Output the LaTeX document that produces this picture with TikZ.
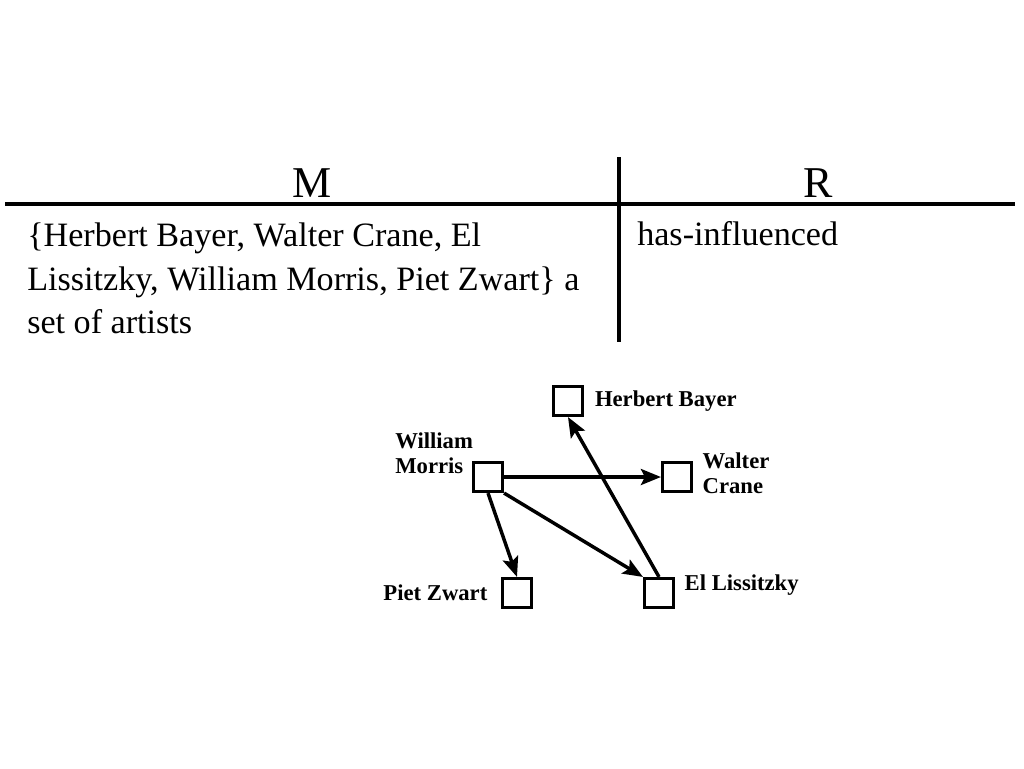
\documentclass[tikz,border=0pt]{standalone}
\usepackage{fontspec}
\setmainfont{Liberation Serif}
\usetikzlibrary{arrows.meta,positioning}

\begin{document}
\begin{tikzpicture}[
    x=0.75pt, y=-0.75pt,
    artist/.style={rectangle, draw, line width=2.5pt, minimum size=21.6pt, inner sep=0pt},
    artistname/.style={font=\fontsize{17}{19}\selectfont\bfseries, inner sep=0pt, align=left},
    infl/.style={line width=2.6pt, -{Stealth[length=15pt,width=12pt,inset=3pt]}},
    rulebar/.style={line width=3pt},
    colhead/.style={font=\fontsize{33}{36}\selectfont, inner sep=0pt},
    cell/.style={font=\fontsize{25.6}{32.5}\selectfont, align=left, inner sep=0pt}
]
    \useasboundingbox (0,0) rectangle (1024,768);
    % the M / R table
    \node[colhead, anchor=base] (mhead) at (312,197) {M};
    \node[colhead, anchor=base] (rhead) at (818,197) {R};
    \coordinate (hleft) at (5,204);
    \coordinate (hright) at (1015,204);
    \coordinate (vtop) at (619,157);
    \coordinate (vbottom) at (619,342);
    \draw[rulebar] (hleft) -- (hright);
    \draw[rulebar] (vtop) -- (vbottom);
    \node[cell, anchor=north west] (mcell) at (27,223)
        {\{Herbert Bayer, Walter Crane, El\\
         Lissitzky, William Morris, Piet Zwart\} a\\
         set of artists};
    \node[cell, anchor=north west] (rcell) at (637,221) {has-influenced};

    % the graph
    \node[artist] (hbayer) at (568,401) {};
    \node[artist] (wmorris) at (488,477) {};
    \node[artist] (wcrane) at (677,477) {};
    \node[artist] (pzwart) at (517,593) {};
    \node[artist] (ellissitzky) at (659,593) {};

    \node[artistname, right=8pt of hbayer] (hbayerlbl) {Herbert Bayer};
    \node[artistname, anchor=north west] (wmorrislbl) at (395,432) {William\\Morris};
    \node[artistname, right=7pt of wcrane, yshift=3pt] (wcranelbl) {Walter\\Crane};
    \node[artistname, left=10pt of pzwart] (pzwartlbl) {Piet Zwart};
    \node[artistname, right=7pt of ellissitzky, yshift=6pt] (ellissitzkylbl) {El Lissitzky};

    \draw[infl] (wmorris) -- (wcrane);
    \draw[infl] (wmorris.south) -- (pzwart.north);
    \draw[infl] (wmorris.south east) -- (ellissitzky.north west);
    \draw[infl] (ellissitzky.north) -- (hbayer.south);
\end{tikzpicture}
\end{document}
